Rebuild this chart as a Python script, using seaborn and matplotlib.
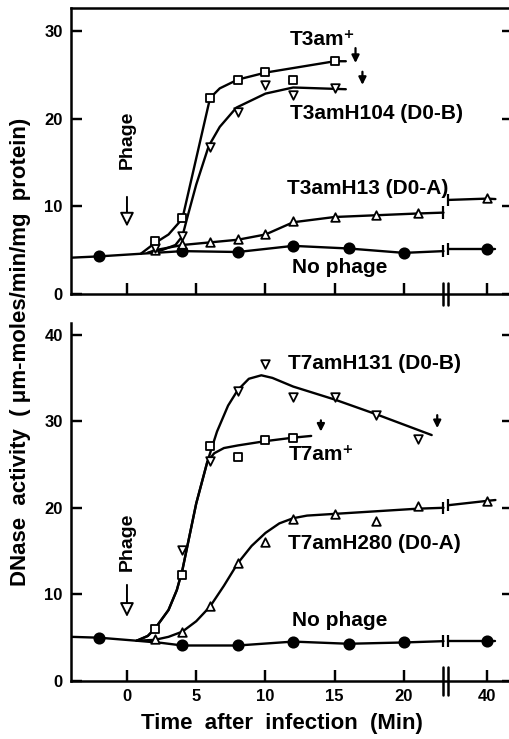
import numpy as np
import matplotlib
matplotlib.use("Agg")
import matplotlib.pyplot as plt
import matplotlib.transforms as mtransforms
import seaborn as sns

# ---------------- data (minutes after infection, DNase activity) ----------------
tick_minutes = [0, 5, 10, 15, 20, 40]
top_yticks = [0, 10, 20, 30]
bot_yticks = [0, 10, 20, 30, 40]

# T3 panel - measured points
t3_nophage_t = [-2, 4, 8, 12, 16, 20, 40]
t3_nophage_y = [4.3, 4.9, 4.8, 5.5, 5.2, 4.7, 5.1]
t3_wt_t = [2, 4, 6, 8, 10, 12, 15]
t3_wt_y = [6.0, 8.7, 22.4, 24.5, 25.4, 24.4, 26.6]
t3_h104_t = [2, 4, 6, 8, 10, 12, 15]
t3_h104_y = [5.3, 6.6, 16.8, 20.8, 23.9, 22.7, 23.5]
t3_h13_t = [2, 4, 6, 8, 10, 12, 15, 18, 21, 40]
t3_h13_y = [5.0, 5.7, 5.9, 6.25, 6.9, 8.3, 8.85, 9.0, 9.3, 11.0]

# T3 panel - hand drawn curves
t3_nophage_line_t = [-4.04, -2, 4, 8, 12, 16, 20, 22.85]
t3_nophage_line_y = [4.15, 4.3, 4.9, 4.8, 5.5, 5.2, 4.7, 4.9]
t3_nophage_post_t = [37.2, 40, 40.6]
t3_nophage_post_y = [5.1, 5.1, 5.1]
t3_wt_line_t = [1.0, 2, 3, 4, 6, 6.7, 8, 10, 15, 15.8]
t3_wt_line_y = [4.6, 5.8, 6.8, 8.6, 22.4, 23.5, 24.5, 25.3, 26.6, 26.6]
t3_h104_line_t = [1.5, 2.5, 3.5, 4, 4.4, 5, 5.9, 6.7, 7.9, 10, 12, 15.8]
t3_h104_line_y = [4.7, 5.0, 5.6, 6.6, 9.0, 12.5, 16.9, 19.1, 21.3, 22.9, 23.6, 23.4]
t3_h13_line_t = [1.5, 2, 4, 6, 8, 10, 12, 15, 18, 21, 22.85]
t3_h13_line_y = [4.7, 5.0, 5.6, 5.9, 6.2, 6.8, 8.2, 8.8, 9.0, 9.2, 9.3]
t3_h13_post_t = [37.2, 40, 40.6]
t3_h13_post_y = [10.75, 10.9, 10.85]

# T7 panel - measured points
t7_nophage_t = [-2, 4, 8, 12, 16, 20, 40]
t7_nophage_y = [5.0, 4.1, 4.1, 4.55, 4.3, 4.45, 4.6]
t7_wt_t = [2, 4, 6, 8, 10, 12]
t7_wt_y = [6.0, 12.2, 27.1, 25.9, 27.8, 28.1]
t7_h131_t = [4, 6, 8, 10, 12, 15, 18, 21]
t7_h131_y = [15.1, 25.4, 33.5, 36.6, 32.8, 32.8, 30.7, 27.9]
t7_h280_t = [2, 4, 6, 8, 10, 12, 15, 18, 21, 40]
t7_h280_y = [4.9, 5.7, 8.65, 13.65, 16.0, 18.7, 19.3, 18.5, 20.2, 20.8]

# T7 panel - hand drawn curves
t7_nophage_line_t = [-4.04, -2, 0.7, 2.5, 4, 8, 12, 16, 20, 22.85]
t7_nophage_line_y = [5.1, 5.0, 4.65, 4.4, 4.1, 4.1, 4.55, 4.3, 4.45, 4.6]
t7_nophage_post_t = [37.2, 40, 40.6]
t7_nophage_post_y = [4.6, 4.6, 4.6]
t7_wt_line_t = [0.7, 1.5, 2, 3, 3.6, 4, 5, 5.8, 6.3, 7, 8, 10, 12, 13.3]
t7_wt_line_y = [4.65, 5.2, 6.0, 8.2, 10.5, 12.8, 20.5, 25.3, 26.3, 26.9, 27.2, 27.7, 28.1, 28.3]
t7_h131_line_t = [0.7, 1.5, 2, 3, 3.6, 4, 5, 5.8, 6.5, 7.3, 8, 8.8, 9.7, 10.5, 12, 15, 18, 22]
t7_h131_line_y = [4.65, 5.2, 6.0, 8.2, 10.5, 12.8, 20.5, 25.3, 28.8, 31.8, 33.6, 34.9, 35.3, 35.0, 34.0, 32.5, 30.8, 28.4]
t7_h280_line_t = [0.7, 2, 3, 4, 5, 6, 7, 8, 9, 10, 11, 12, 13, 15, 18, 21, 22.85]
t7_h280_line_y = [4.65, 4.75, 5.1, 5.7, 6.9, 8.6, 11.0, 13.6, 15.6, 17.1, 18.2, 18.8, 19.1, 19.3, 19.6, 19.9, 20.0]
t7_h280_post_t = [37.2, 40, 40.6]
t7_h280_post_y = [20.3, 20.8, 20.9]

# end-of-synthesis arrows (time, from, to)
t3_stop_arrows = [(16.5, 28.1, 26.4), (17.0, 25.4, 23.9)]
t7_stop_arrows = [(14.0, 30.1, 28.8), (22.4, 30.7, 29.2)]

# ---------------- helpers ----------------
def squeeze(t):
    # broken time axis: 40 min is drawn at 26
    t = np.asarray(t, dtype=float)
    return np.where(t > 30, t - 14, t)

BREAK_LO, BREAK_HI = 22.85, 23.15
XLIM = (-4.04, 27.87)
TICK_PX = 11

sns.set_theme(style="ticks")
plt.rcParams['font.family'] = ['Liberation Sans', 'DejaVu Sans']
plt.rcParams['font.weight'] = 'bold'
plt.rcParams['text.color'] = 'black'
plt.rcParams['xtick.color'] = 'black'
plt.rcParams['ytick.color'] = 'black'

fig = plt.figure(figsize=(5.1, 7.39), dpi=100)
ax1 = fig.add_axes([71 / 510, 1 - 294 / 739, (513 - 71) / 510, (294 - 7.5) / 739])
ax2 = fig.add_axes([71 / 510, 1 - 681 / 739, (513 - 71) / 510, (681 - 323) / 739])


def curve(ax, t, y):
    sns.lineplot(x=squeeze(t), y=y, ax=ax, color='black', linewidth=1.7,
                 sort=False, estimator=None, zorder=2)


def points(ax, t, y, marker, filled=False, s=38):
    sns.scatterplot(x=squeeze(t), y=y, ax=ax, marker=marker, s=s,
                    color='black' if filled else 'white', edgecolor='black',
                    linewidth=1.3, zorder=3, clip_on=False)


def break_ticks(ax, y_pre, y_post, h=0.7):
    ax.vlines(BREAK_LO, y_pre - h, y_pre + h, color='black', lw=1.6)
    ax.vlines(BREAK_HI, y_post - h, y_post + h, color='black', lw=1.6)


def style(ax, ylim, yticks, show_xlabels):
    ax.set_xlim(*XLIM)
    ax.set_ylim(*ylim)
    ax.set_xticks(squeeze(tick_minutes))
    ax.set_xticklabels([str(m) for m in tick_minutes] if show_xlabels else [])
    ax.set_yticks(yticks)
    ax.set_yticklabels([str(v) for v in yticks])
    for sp in ax.spines.values():
        sp.set_linewidth(1.8)
        sp.set_color('black')
    ax.set_xlabel('')
    ax.set_ylabel('')
    # inward tick marks drawn as plain lines as well, so they always show
    w_px = ax.get_position().width * 510
    h_px = ax.get_position().height * 739
    tx = mtransforms.blended_transform_factory(ax.transData, ax.transAxes)
    ty = mtransforms.blended_transform_factory(ax.transAxes, ax.transData)
    for xt in squeeze(tick_minutes):
        ax.plot([xt, xt], [0, TICK_PX / h_px], transform=tx, color='black',
                lw=1.6, clip_on=False, zorder=4, solid_capstyle='butt')
    for yt in yticks:
        ax.plot([0, TICK_PX / w_px], [yt, yt], transform=ty, color='black',
                lw=1.6, clip_on=False, zorder=4, solid_capstyle='butt')
        ax.plot([1 - TICK_PX / w_px, 1], [yt, yt], transform=ty, color='black',
                lw=1.6, clip_on=False, zorder=4, solid_capstyle='butt')
    # break mark on the x axis
    for xb in (BREAK_LO - 0.05, BREAK_HI + 0.05):
        ax.plot([xb, xb], [-0.04, 0.04], transform=tx, color='black',
                lw=1.8, clip_on=False, zorder=5)


def phage_arrow(ax, y_text, y_from, y_to):
    ax.text(0.33, y_text, 'Phage', rotation=90, rotation_mode='anchor',
            ha='center', va='baseline', fontsize=14, fontweight='bold')
    ax.annotate('', xy=(0, y_to), xytext=(0, y_from),
                arrowprops=dict(arrowstyle='-|>,head_length=0.6,head_width=0.3',
                                fc='white', ec='black', lw=1.4,
                                mutation_scale=14, shrinkA=0, shrinkB=0))


def stop_arrows(ax, arrows):
    for x, y0, y1 in arrows:
        ax.annotate('', xy=(x, y1), xytext=(x, y0),
                    arrowprops=dict(arrowstyle='-|>', fc='black', ec='black',
                                    lw=1.6, mutation_scale=11, shrinkA=0, shrinkB=0))


# ---------------- top panel (T3) ----------------
curve(ax1, t3_nophage_line_t, t3_nophage_line_y)
curve(ax1, t3_nophage_post_t, t3_nophage_post_y)
curve(ax1, t3_wt_line_t, t3_wt_line_y)
curve(ax1, t3_h104_line_t, t3_h104_line_y)
curve(ax1, t3_h13_line_t, t3_h13_line_y)
curve(ax1, t3_h13_post_t, t3_h13_post_y)
break_ticks(ax1, t3_nophage_line_y[-1], t3_nophage_post_y[0])
break_ticks(ax1, t3_h13_line_y[-1], t3_h13_post_y[0])
points(ax1, t3_nophage_t, t3_nophage_y, 'o', filled=True, s=55)
points(ax1, t3_h13_t, t3_h13_y, '^')
points(ax1, t3_h104_t, t3_h104_y, 'v')
points(ax1, t3_wt_t, t3_wt_y, 's')
style(ax1, (0, 32.74), top_yticks, False)
phage_arrow(ax1, 17.6, 11.1, 7.7)
stop_arrows(ax1, t3_stop_arrows)

ax1.text(11.77, 28.46, 'T3am\u207a', fontsize=15, fontweight='bold')
ax1.text(11.77, 19.96, 'T3amH104 (D0-B)', fontsize=15, fontweight='bold')
ax1.text(11.57, 11.4, 'T3amH13 (D0-A)', fontsize=15, fontweight='bold')
ax1.text(11.9, 2.36, 'No phage', fontsize=15, fontweight='bold')

# ---------------- bottom panel (T7) ----------------
curve(ax2, t7_nophage_line_t, t7_nophage_line_y)
curve(ax2, t7_nophage_post_t, t7_nophage_post_y)
curve(ax2, t7_wt_line_t, t7_wt_line_y)
curve(ax2, t7_h131_line_t, t7_h131_line_y)
curve(ax2, t7_h280_line_t, t7_h280_line_y)
curve(ax2, t7_h280_post_t, t7_h280_post_y)
break_ticks(ax2, t7_nophage_line_y[-1], t7_nophage_post_y[0])
break_ticks(ax2, t7_h280_line_y[-1], t7_h280_post_y[0])
points(ax2, t7_nophage_t, t7_nophage_y, 'o', filled=True, s=55)
points(ax2, t7_h280_t, t7_h280_y, '^')
points(ax2, t7_h131_t, t7_h131_y, 'v')
points(ax2, t7_wt_t, t7_wt_y, 's')
style(ax2, (0, 41.34), bot_yticks, True)
ax2.spines['top'].set_visible(False)
phage_arrow(ax2, 16.1, 11.1, 7.4)
stop_arrows(ax2, t7_stop_arrows)

ax2.text(11.65, 36.0, 'T7amH131 (D0-B)', fontsize=15, fontweight='bold')
ax2.text(11.65, 25.5, 'T7am\u207a', fontsize=15, fontweight='bold')
ax2.text(11.65, 15.3, 'T7amH280 (D0-A)', fontsize=15, fontweight='bold')
ax2.text(11.9, 6.35, 'No phage', fontsize=15, fontweight='bold')

for ax in (ax1, ax2):
    ax.tick_params(axis='both', which='major', direction='in', length=8,
                   width=1.6, labelsize=12, pad=6, left=True, bottom=True,
                   right=True, top=False, color='black', labelcolor='black')

# ---------------- axis titles ----------------
fig.text(26 / 510, 1 - 352 / 739, 'DNase  activity  ( \u03bcm-moles/min/mg  protein)',
         rotation=90, rotation_mode='anchor', ha='center', va='baseline',
         fontsize=16, fontweight='bold')
fig.text(282 / 510, 1 - 723 / 739, 'Time  after  infection  (Min)',
         ha='center', va='center', fontsize=16, fontweight='bold')

fig.savefig('out.png', dpi=100, facecolor='white')
